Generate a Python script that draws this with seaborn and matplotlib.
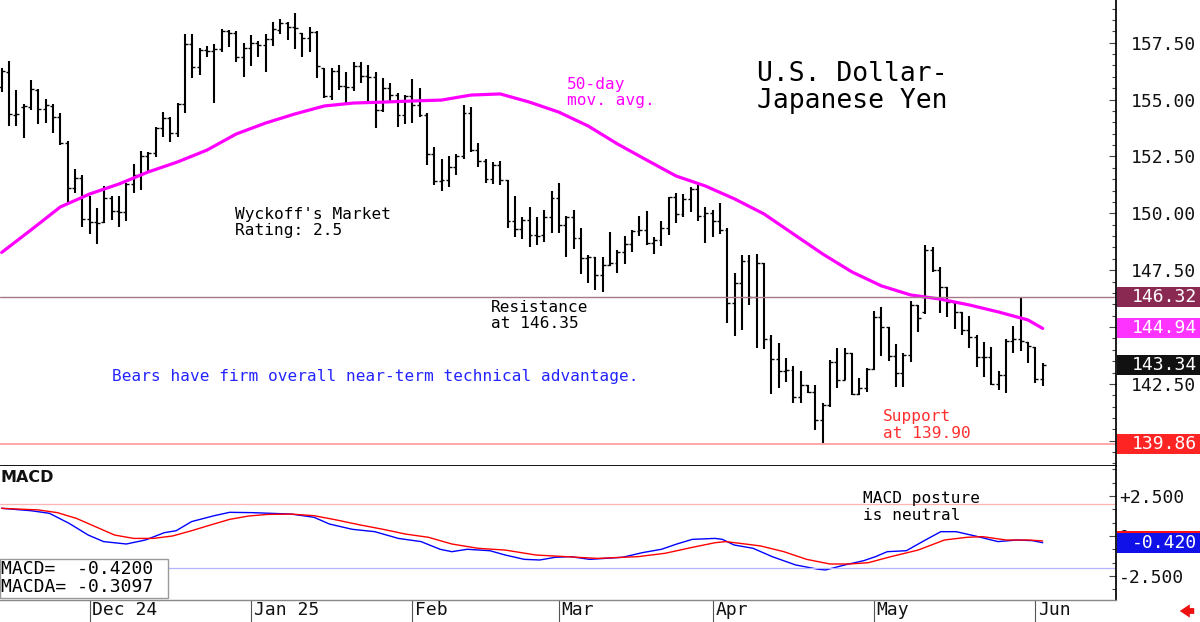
import numpy as np
import pandas as pd
import matplotlib
matplotlib.use("Agg")
import matplotlib.pyplot as plt
import matplotlib.transforms as mtransforms
from matplotlib.patches import Rectangle
from matplotlib.ticker import MultipleLocator, FormatStrFormatter
import seaborn as sns

# trading days (forex weekdays, Jan 1 skipped)
dates = pd.bdate_range("2024-11-14", "2025-06-03")
dates = dates[dates != pd.Timestamp("2025-01-01")]
month_labels = ["Dec 24", "Jan 25", "Feb", "Mar", "Apr", "May", "Jun"]

opens = [155.54, 156.23, 154.33, 154.66, 154.69, 155.42, 154.57, 154.72, 154.22, 153.08,
         151.10, 151.57, 149.74, 149.64, 149.64, 150.66, 150.12, 150.08, 151.29, 151.69,
         152.52, 152.67, 153.77, 154.18, 153.52, 154.81, 157.45, 156.45, 157.18, 157.15,
         157.21, 158.03, 157.94, 156.86, 157.26, 157.50, 157.40, 157.65, 158.06, 158.38,
         158.21, 157.91, 157.70, 157.99, 156.38, 155.16, 156.27, 155.60, 155.54, 156.48,
         156.04, 156.01, 154.55, 155.50, 155.20, 154.33, 155.16, 154.76, 154.33, 152.61,
         151.44, 151.47, 152.05, 152.52, 154.40, 152.79, 152.32, 151.50, 152.13, 151.47,
         149.68, 149.30, 149.71, 149.05, 149.05, 149.85, 150.66, 149.49, 149.82, 148.90,
         148.02, 148.06, 147.29, 147.73, 147.80, 148.31, 148.65, 149.24, 149.27, 148.68,
         148.83, 149.34, 150.70, 149.97, 150.61, 151.05, 149.88, 150.00, 149.68, 149.27,
         146.07, 146.95, 147.92, 146.31, 147.80, 144.46, 143.58, 143.08, 143.11, 141.94,
         142.45, 142.16, 140.91, 141.57, 143.48, 142.67, 143.84, 142.06, 142.31, 143.14,
         145.43, 144.99, 143.73, 143.00, 143.77, 145.97, 145.68, 148.39, 147.51, 146.78,
         146.12, 145.68, 144.87, 144.58, 143.70, 143.67, 142.50, 142.89, 144.40, 144.46,
         144.36, 144.14, 142.70]
highs = [156.38, 156.71, 155.42, 154.81, 155.86, 155.45, 155.01, 154.81, 154.43, 153.20,
         151.94, 151.69, 150.74, 150.22, 151.20, 150.74, 150.77, 151.32, 152.17, 152.76,
         152.71, 153.81, 154.47, 154.25, 154.84, 157.89, 157.89, 157.26, 157.36, 157.45,
         158.09, 158.06, 158.03, 157.50, 157.84, 157.59, 157.87, 158.43, 158.53, 158.43,
         158.82, 157.94, 158.18, 158.03, 156.38, 156.38, 156.52, 156.23, 156.67, 156.67,
         156.52, 156.23, 155.94, 155.75, 155.28, 155.20, 155.89, 155.50, 154.43, 152.93,
         152.38, 152.52, 152.61, 154.76, 154.66, 153.11, 152.38, 152.27, 152.32, 151.47,
         150.74, 149.86, 150.30, 149.86, 150.15, 150.99, 151.32, 149.88, 150.14, 149.34,
         148.17, 148.09, 148.09, 149.19, 148.39, 149.00, 149.27, 149.88, 150.12, 148.94,
         149.68, 150.73, 150.91, 150.85, 151.14, 151.24, 150.29, 150.14, 150.47, 149.34,
         147.39, 148.17, 148.17, 148.21, 147.80, 144.65, 144.28, 143.62, 143.29, 143.08,
         142.45, 142.45, 141.65, 143.55, 144.06, 144.06, 143.87, 142.75, 143.19, 145.72,
         145.88, 144.99, 144.25, 143.87, 146.16, 145.97, 148.61, 148.50, 147.65, 146.78,
         146.16, 145.68, 145.49, 144.65, 144.36, 144.11, 143.08, 144.46, 145.05, 146.31,
         144.36, 144.14, 143.43]
lows = [155.35, 153.84, 153.84, 153.30, 154.55, 153.91, 153.96, 153.55, 153.01, 150.44,
        150.91, 149.42, 149.09, 148.65, 149.59, 149.71, 149.42, 149.68, 150.88, 151.03,
        151.79, 152.49, 153.34, 153.15, 153.34, 154.43, 155.94, 156.08, 156.89, 154.84,
        157.11, 157.33, 156.67, 156.01, 156.48, 156.86, 156.23, 157.36, 157.87, 157.62,
        157.21, 156.89, 157.11, 155.94, 155.06, 154.98, 155.42, 154.81, 155.39, 155.72,
        154.84, 153.74, 154.47, 154.91, 153.81, 153.93, 153.99, 154.22, 152.13, 151.25,
        150.96, 151.15, 151.69, 152.38, 152.71, 152.05, 151.35, 151.29, 151.25, 149.34,
        148.95, 148.86, 148.54, 148.61, 148.76, 149.12, 149.12, 148.06, 148.42, 147.33,
        146.95, 146.63, 146.55, 147.68, 147.39, 147.77, 148.31, 149.00, 148.61, 148.21,
        148.56, 149.05, 149.56, 149.85, 150.07, 149.68, 148.68, 148.97, 149.09, 145.19,
        144.61, 144.87, 145.97, 144.06, 144.02, 142.06, 142.31, 142.60, 141.65, 141.68,
        142.12, 140.47, 139.89, 141.50, 142.31, 142.67, 142.01, 142.01, 142.16, 143.11,
        143.73, 143.52, 142.38, 142.38, 143.48, 144.80, 145.57, 147.43, 145.63, 145.43,
        144.90, 144.65, 144.06, 143.26, 142.82, 142.45, 142.23, 142.12, 143.84, 143.96,
        143.40, 142.55, 142.41]
closes = [156.27, 154.35, 154.37, 154.72, 155.45, 154.57, 154.76, 154.22, 153.08, 151.10,
          151.57, 149.74, 149.64, 149.59, 150.66, 150.12, 150.08, 151.29, 151.69, 152.52,
          152.67, 153.77, 154.18, 153.52, 154.81, 157.45, 156.45, 157.18, 157.15, 157.21,
          158.03, 157.94, 156.86, 157.26, 157.50, 157.40, 157.65, 158.09, 158.38, 158.21,
          158.13, 157.70, 157.99, 156.48, 155.16, 156.27, 155.60, 155.54, 156.48, 156.04,
          156.01, 154.55, 155.50, 155.20, 154.33, 155.16, 154.76, 154.33, 152.61, 151.44,
          151.47, 152.05, 152.52, 154.40, 152.79, 152.32, 151.50, 152.13, 151.47, 149.68,
          149.30, 149.71, 149.05, 149.01, 149.86, 150.66, 149.49, 149.82, 148.90, 148.02,
          148.06, 147.29, 147.73, 147.80, 148.31, 148.65, 149.24, 149.27, 148.68, 148.83,
          149.34, 150.70, 149.97, 150.61, 151.05, 149.88, 150.00, 149.68, 149.27, 146.07,
          146.95, 147.92, 146.31, 147.80, 144.46, 143.58, 143.08, 143.11, 141.94, 142.45,
          142.16, 140.91, 141.57, 143.48, 142.67, 143.84, 142.06, 142.31, 143.14, 145.43,
          144.99, 143.73, 143.00, 143.77, 145.97, 145.38, 148.39, 147.51, 146.78, 146.12,
          145.68, 144.87, 144.58, 143.70, 143.67, 142.50, 142.89, 144.40, 144.46, 144.40,
          144.17, 142.70, 143.34]

# 50-day moving average
ma_idx = list(range(0, 141, 4)) + [142]
ma_vals = [148.28, 149.27, 150.28, 150.85, 151.29, 151.82, 152.26, 152.78, 153.49, 153.97,
           154.37, 154.72, 154.85, 154.89, 154.94, 154.98, 155.20, 155.25, 154.89, 154.45,
           153.84, 153.05, 152.34, 151.64, 151.20, 150.63, 149.97, 149.09, 148.21, 147.42,
           146.81, 146.41, 146.23, 145.97, 145.66, 145.31, 144.94]

resistance = 146.32
support = 139.86
last_close = 143.34
last_ma = 144.94

# MACD (blue) and MACDA signal (red)
macd_x = [0, 4, 6.5, 9.2, 11.8, 13.9, 17.0, 19.6, 22.2, 23.8, 25.9, 29.0, 31.1, 34.2, 39.5,
          42.6, 44.7, 47.8, 50.9, 54.1, 57.2, 59.8, 61.4, 63.5, 66.6, 68.7, 71.3, 73.4, 75.5,
          77.6, 80.2, 84.7, 87.4, 90.0, 92.1, 94.2, 97.3, 98.3, 99.9, 102.5, 105.1, 108.3,
          111.4, 112.4, 115.0, 117.6, 119.2, 120.8, 123.4, 126.0, 128.1, 130.2, 132.8, 135.9,
          138.5, 140.6, 142]
macd_vals = [1.73, 1.58, 1.42, 0.79, 0.06, -0.35, -0.50, -0.25, 0.21, 0.33, 0.90, 1.27, 1.48,
             1.46, 1.37, 1.17, 0.75, 0.42, 0.27, -0.15, -0.35, -0.83, -0.98, -0.83, -0.92,
             -1.19, -1.46, -1.50, -1.33, -1.29, -1.46, -1.33, -1.04, -0.83, -0.50, -0.21,
             -0.15, -0.21, -0.56, -0.77, -1.29, -1.81, -2.08, -2.12, -1.81, -1.54, -1.29,
             -0.98, -0.92, -0.25, 0.27, 0.27, 0.00, -0.35, -0.25, -0.29, -0.42]
signal_x = [0, 5.0, 7.6, 10.2, 12.8, 15.4, 18.0, 20.7, 23.3, 25.9, 28.5, 31.1, 33.7, 36.3,
            39.5, 42.6, 45.7, 48.9, 52.0, 55.1, 58.2, 61.4, 65.0, 68.7, 72.9, 77.0, 81.2,
            86.8, 90.5, 94.2, 97.3, 98.8, 103.5, 106.7, 109.8, 113.0, 115.6, 118.2, 121.3,
            125.0, 128.6, 131.7, 133.8, 137.0, 140.1, 142]
signal_vals = [1.73, 1.63, 1.46, 1.10, 0.58, 0.06, -0.15, -0.15, 0.00, 0.33, 0.69, 1.04, 1.25,
               1.35, 1.37, 1.27, 1.00, 0.69, 0.42, 0.12, -0.08, -0.50, -0.77, -0.88, -1.19,
               -1.29, -1.40, -1.29, -1.08, -0.71, -0.42, -0.35, -0.62, -0.98, -1.46, -1.75,
               -1.75, -1.67, -1.29, -0.88, -0.25, -0.08, -0.04, -0.25, -0.25, -0.31]
macd_last = -0.4200
macda_last = -0.3097

sns.set_theme(style="white")
plt.rcParams["font.family"] = ["DejaVu Sans Mono", "DejaVu Sans"]

W, H = 1200, 622
fig = plt.figure(figsize=(12, 6.22), dpi=100)
ax = fig.add_axes([0, 1 - 466 / H, 1116 / W, 466 / H])
axm = fig.add_axes([0, 1 - 600 / H, 1116 / W, 134 / H], sharex=ax)

# price bars
x = np.arange(len(dates))
ax.vlines(x, lows, highs, color="black", lw=1.5)
ax.hlines(opens, x - 0.4, x, color="black", lw=1.0)
ax.hlines(closes, x, x + 0.4, color="black", lw=1.0)
sns.lineplot(x=ma_idx, y=ma_vals, ax=ax, color="#ff00ff", lw=2.3)
ax.axhline(resistance, color="#a87888", lw=1.0)
ax.axhline(support, color="#ff9a9a", lw=1.2)

ax.set_xlim(-0.23, 152.0)
ax.set_ylim(138.89, 159.38)
ax.set_xlabel("")
ax.set_ylabel("")
ax.yaxis.tick_right()
ax.yaxis.set_major_locator(MultipleLocator(2.5))
ax.yaxis.set_minor_locator(MultipleLocator(0.5))
ax.yaxis.set_major_formatter(FormatStrFormatter("%.2f"))
ax.tick_params(axis="y", which="both", direction="in", right=True, left=False,
               length=3, width=0.8, color="#444444", pad=11, labelsize=13,
               labelcolor="#111111")
ax.tick_params(axis="y", which="major", length=5)
ax.tick_params(axis="x", bottom=False, labelbottom=False)
for side in ["top", "left"]:
    ax.spines[side].set_visible(False)
ax.spines["right"].set_color("black")
ax.spines["bottom"].set_color("black")
ax.spines["bottom"].set_linewidth(1.3)

# MACD panel
sns.lineplot(x=macd_x, y=macd_vals, ax=axm, color="#0000ff", lw=1.0)
sns.lineplot(x=signal_x, y=signal_vals, ax=axm, color="#ff0000", lw=1.0)
axm.axhline(2.0, color="#ffb4b4", lw=0.9)
axm.axhline(-2.0, color="#b4b4ff", lw=0.9)
axm.set_ylim(-4.0, 4.375)
axm.set_xlabel("")
axm.set_ylabel("")
axm.yaxis.tick_right()
axm.set_yticks([-2.5, 0, 2.5], labels=["-2.500", "0", "+2.500"])
axm.yaxis.set_minor_locator(MultipleLocator(2.5 / 3))
axm.tick_params(axis="y", which="both", direction="in", right=True, left=False,
                length=3, width=0.8, color="#444444", pad=2, labelsize=13,
                labelcolor="#111111")
axm.tick_params(axis="y", which="major", length=5)

month_pos = [i for i in range(1, len(dates)) if dates[i].month != dates[i - 1].month]
axm.set_xticks(month_pos)
axm.tick_params(axis="x", which="major", direction="out", bottom=True, length=16,
                width=0.8, color="#555555", labelbottom=False)
tr_month = mtransforms.blended_transform_factory(axm.transData, axm.transAxes)
for pos, lab in zip(month_pos, month_labels):
    axm.text(pos + 0.35, -0.075, lab, transform=tr_month, ha="left", va="center",
             fontsize=13, color="#111111", clip_on=False)
for side in ["top", "left"]:
    axm.spines[side].set_visible(False)
axm.spines["right"].set_color("black")
axm.spines["bottom"].set_color("#888888")
axm.spines["bottom"].set_linewidth(1.0)


def value_box(axis, value, text, fc, height):
    tr = mtransforms.blended_transform_factory(fig.transFigure, axis.transData)
    fig.add_artist(Rectangle((1117 / W, value - height / 2), 1 - 1117 / W, height,
                             transform=tr, fc=fc, ec="none", zorder=5))
    fig.text(1197 / W, value, text, transform=tr, ha="right", va="center",
             color="white", fontsize=13, zorder=6)


value_box(ax, resistance, f"{resistance:.2f}", "#8a2a52", 0.88)
value_box(ax, last_ma, f"{last_ma:.2f}", "#ff33ff", 0.88)
value_box(ax, last_close, f"{last_close:.2f}", "#111111", 0.88)
value_box(ax, support, f"{support:.2f}", "#ff2424", 0.88)
value_box(axm, macda_last, "", "#ff1010", 1.25)
value_box(axm, macd_last, f"{macd_last:.3f}", "#1010e8", 1.25)


def note(px, py, lines, color="black", size=11.6, step=17):
    for k, line in enumerate(lines):
        fig.text(px / W, 1 - (py + k * step) / H, line, color=color, fontsize=size,
                 ha="left", va="center", zorder=7)


note(757, 74, ["U.S. Dollar-", "Japanese Yen"], size=19, step=27)
note(567, 84, ["50-day", "mov. avg."], color="#ff00ff")
note(235, 214, ["Wyckoff's Market", "Rating: 2.5"])
note(491, 307, ["Resistance", "at 146.35"])
note(112, 377, ["Bears have firm overall near-term technical advantage."], color="#2424ff")
note(883, 416, ["Support", "at 139.90"], color="#ff3030")
note(863, 499, ["MACD posture", "is neutral"])

fig.text(1 / W, 1 - 478 / H, "MACD", fontsize=11.5, fontweight="bold",
         family=["DejaVu Sans"], ha="left", va="center", color="#111111")
fig.add_artist(Rectangle((0, 1 - 598 / H), 168 / W, 39 / H, transform=fig.transFigure,
                         fc="white", ec="#999999", lw=1.0, zorder=4))
note(1, 569, [f"MACD=  {macd_last:.4f}", f"MACDA= {macda_last:.4f}"], size=13, step=18)

axm.annotate("", xy=(1177, 11), xycoords="figure pixels", xytext=(1197, 11),
             textcoords="figure pixels", annotation_clip=False,
             arrowprops=dict(arrowstyle="simple,head_width=0.8,head_length=0.6,tail_width=0.35",
                             color="#ee1111", lw=0))

fig.savefig("out.png", dpi=100, facecolor="white")
